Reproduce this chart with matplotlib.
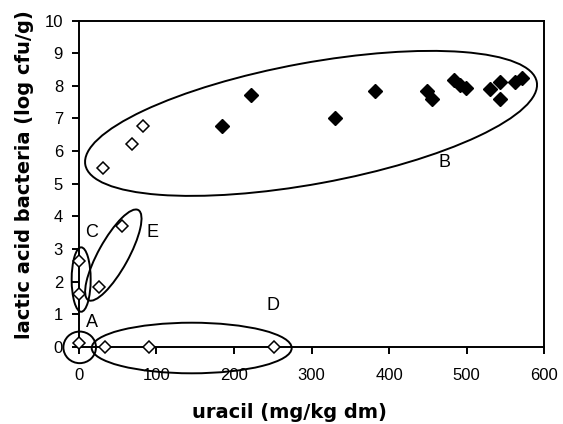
import numpy as np
import matplotlib
matplotlib.use("Agg")
import matplotlib.pyplot as plt
from matplotlib.patches import Ellipse
from matplotlib.transforms import ScaledTranslation

# filled diamonds (cluster B)
uracil_filled = [184, 222, 330, 382, 449, 456, 484, 491, 499, 530, 543, 543, 563, 571]
lab_filled = [6.77, 7.72, 7.00, 7.84, 7.85, 7.60, 8.18, 8.03, 7.93, 7.90, 8.13, 7.59, 8.13, 8.23]

# open diamonds
uracil_open = [31, 69, 83, 55, 26, 0, 0, 0, 33, 90, 252]
lab_open = [5.49, 6.22, 6.77, 3.70, 1.84, 2.63, 1.62, 0.12, 0.0, 0.0, 0.0]

# group outlines: name, centre (data), semi axes (px), angle (deg)
groups = ["A", "B", "C", "D", "E"]
group_centres = [(0.9, -0.02), (299.4, 6.85), (2.8, 2.06), (145.4, -0.04), (44.3, 2.81)]
group_axes = [(16.3, 15.8), (229.5, 60.5), (9.5, 32.2), (100, 25.3), (51.5, 15)]
group_angles = [0, 10.4, 0, 0, 61]
label_pos = [(16.4, 0.73), (472, 5.64), (16.4, 3.49), (250, 1.25), (95, 3.49)]

plt.rcParams['font.family'] = ['Liberation Sans', 'DejaVu Sans']

fig = plt.figure(figsize=(5.63, 4.24), dpi=100)
ax = fig.add_axes([0.1403, 0.1823, 0.826, 0.7689])

for (cx, cy), (a, b), ang in zip(group_centres, group_axes, group_angles):
    tr = fig.dpi_scale_trans + ScaledTranslation(cx, cy, ax.transData)
    e = Ellipse((0, 0), 2 * a / 100, 2 * b / 100, angle=ang, transform=tr,
                fill=False, edgecolor='black', linewidth=1.4, clip_on=False, zorder=2)
    ax.add_patch(e)

ax.plot(uracil_filled, lab_filled, linestyle='none', marker='D', markersize=7,
        markerfacecolor='black', markeredgecolor='black', clip_on=False, zorder=4)
ax.plot(uracil_open, lab_open, linestyle='none', marker='D', markersize=6,
        markerfacecolor='white', markeredgecolor='black', markeredgewidth=1.1,
        clip_on=False, zorder=4)

for name, (lx, ly) in zip(groups, label_pos):
    ax.text(lx, ly, name, fontsize=13, ha='center', va='center', zorder=5)

ax.set_xlim(0, 600)
ax.set_ylim(0, 10)
ax.set_xticks(np.arange(0, 601, 100))
ax.set_yticks(np.arange(0, 11, 1))
ax.tick_params(direction='out', length=5, width=1.4, labelsize=12)
ax.tick_params(axis='x', pad=10)
ax.tick_params(axis='y', pad=6.5)
for s in ax.spines.values():
    s.set_linewidth(1.4)

ax.set_xlabel("uracil (mg/kg dm)", fontsize=14, fontweight='bold', family='DejaVu Sans')
ax.set_ylabel("lactic acid bacteria (log cfu/g)", fontsize=14, fontweight='bold', family='DejaVu Sans')
ax.xaxis.set_label_coords(0.452, -0.174)
ax.yaxis.set_label_coords(-0.097, 0.527)

fig.savefig("out.png", dpi=100)
